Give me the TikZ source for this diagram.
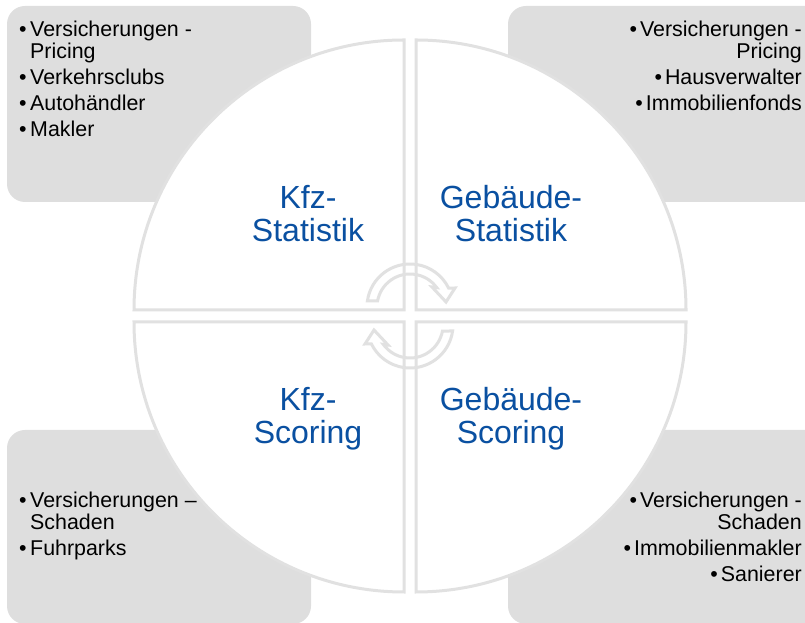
\documentclass[tikz,border=0pt]{standalone}
\usepackage{fontspec}
\setmainfont{Liberation Sans}
\definecolor{panelgrey}{HTML}{DEDEDE}
\definecolor{linegrey}{HTML}{E1E1E1}
\definecolor{titleblue}{HTML}{0A50A1}
\newcommand{\lb}{\hbox to 11pt{\textbullet\hss}}
\newcommand{\lind}{\hspace*{11pt}}
\newcommand{\rb}{\textbullet\hspace{3pt}}
\tikzset{
  x=1pt,y=1pt,
  panel/.style={fill=panelgrey,rounded corners=18pt},
  quad/.style={draw=linegrey,fill=white,line width=3pt,line join=miter},
  turn/.style={draw=linegrey,line width=3pt,line join=miter},
  title/.style={text=titleblue,font=\fontsize{32}{33}\selectfont,align=center,inner sep=0pt},
  listl/.style={anchor=north west,inner sep=0pt,align=left,font=\fontsize{21.4}{22}\selectfont},
  listr/.style={anchor=north east,inner sep=0pt,align=right,font=\fontsize{21.4}{22}\selectfont}
}
\begin{document}
\begin{tikzpicture}
\useasboundingbox (0,0) rectangle (805,623);
\begin{scope}
\clip (0,0) rectangle (805,623);
\fill[panel] (7,421) rectangle (311,617);
\fill[panel] (508,421) rectangle (830,617);
\fill[panel] (7,193) rectangle (311,-1);
\fill[panel] (508,193) rectangle (830,-1);
\end{scope}
\draw[quad] (134,313) arc[start angle=180,end angle=90,radius=270] -- (404,313) -- cycle;
\draw[quad] (416,583) arc[start angle=90,end angle=0,radius=270] -- (416,313) -- cycle;
\draw[quad] (134,301) arc[start angle=180,end angle=270,radius=270] -- (404,301) -- cycle;
\draw[quad] (416,31) arc[start angle=270,end angle=360,radius=270] -- (416,301) -- cycle;
\draw[turn] (367.4,322) arc[start angle=172,end angle=26,radius=43] -- (455,335) -- (446,321) -- (432,336) -- (436.7,335.4) arc[start angle=36,end angle=169.5,radius=33] -- cycle;
\begin{scope}[rotate around={180:(410,307)}]
\draw[turn] (367.4,322) arc[start angle=172,end angle=26,radius=43] -- (455,335) -- (446,321) -- (432,336) -- (436.7,335.4) arc[start angle=36,end angle=169.5,radius=33] -- cycle;
\end{scope}
\node[title] (kfzstat) at (308,409.5) {Kfz-\\Statistik};
\node[title] (gebstat) at (511,409.5) {Gebäude-\\Statistik};
\node[title] (kfzscore) at (308,204) {Kfz-\\Scoring};
\node[title] (gebscore) at (511,204) {Gebäude-\\Scoring};
\node[listl] (tl) at (19,602.5) {\lb Versicherungen -\\\lind Pricing\\[4pt]\lb Verkehrsclubs\\[4pt]\lb Autohändler\\[4pt]\lb Makler};
\node[listr] (tr) at (802,602.5) {\rb Versicherungen -\\Pricing\\[4pt]\rb Hausverwalter\\[4pt]\rb Immobilienfonds};
\node[listl] (bl) at (19,131) {\lb Versicherungen –\\\lind Schaden\\[4pt]\lb Fuhrparks};
\node[listr] (br) at (802,131) {\rb Versicherungen -\\Schaden\\[4pt]\rb Immobilienmakler\\[4pt]\rb Sanierer};
\end{tikzpicture}
\end{document}
